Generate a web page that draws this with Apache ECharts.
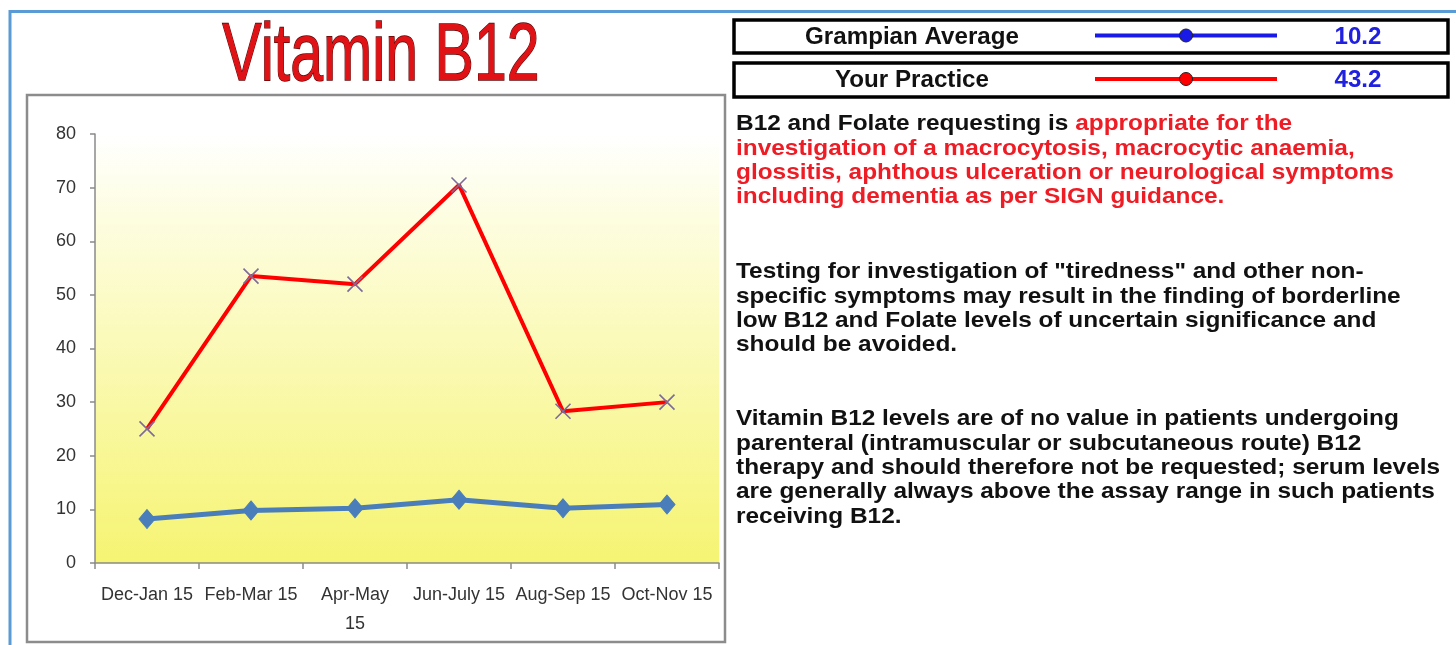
<!DOCTYPE html>
<html><head><meta charset="utf-8">
<script src="https://cdn.jsdelivr.net/npm/echarts@6/dist/echarts.min.js"></script>
<style>html,body{margin:0;padding:0;background:#fff}#c{width:1456px;height:645px}</style>
</head><body><div id="c"></div>
<script>
// ---- data ----
const titleText = 'Vitamin B12';
const categories = ['Dec-Jan 15', 'Feb-Mar 15', 'Apr-May\n15', 'Jun-July 15', 'Aug-Sep 15', 'Oct-Nov 15'];
const practiceValues = [25, 53.5, 52, 70.5, 28.3, 30];
const grampianValues = [8.2, 9.8, 10.2, 11.8, 10.2, 10.9];
const yMin = 0, yMax = 80, yStep = 10;
const legendNames = ['Grampian Average', 'Your Practice'];
const legendValues = ['10.2', '43.2'];
const noteParagraphs = [
  ['{k|B12 and Folate requesting is }{r|appropriate for the}',
   '{r|investigation of a macrocytosis, macrocytic anaemia,}',
   '{r|glossitis, aphthous ulceration or neurological symptoms}',
   '{r|including dementia as per SIGN guidance.}'],
  ['{k|Testing for investigation of "tiredness" and other non-}',
   '{k|specific symptoms may result in the finding of borderline}',
   '{k|low B12 and Folate levels of uncertain significance and}',
   '{k|should be avoided.}'],
  ['{k|Vitamin B12 levels are of no value in patients undergoing}',
   '{k|parenteral (intramuscular or subcutaneous route) B12}',
   '{k|therapy and should therefore not be requested; serum levels}',
   '{k|are generally always above the assay range in such patients}',
   '{k|receiving B12.}']
];

// ---- style ----
const axisFont = '"Liberation Sans Narrow","Liberation Sans",Arial,sans-serif';
const boldFont = '"Liberation Sans",Arial,sans-serif';
const practiceColor = '#ff0000';
const grampianColor = '#4a7ebb';
const legendLineColors = ['#1a1ae6', '#ff0000'];
const valueColor = '#2020e0';

const chart = echarts.init(document.getElementById('c'), null, {renderer: 'canvas'});

const graphics = [];
// outer blue frame
graphics.push({type: 'polyline', z: -20, silent: true,
  shape: {points: [[10, 645], [10, 11.5], [1456, 11.5]]},
  style: {stroke: '#5b9bd5', lineWidth: 3, fill: null}});
// chart box
graphics.push({type: 'rect', z: -10, silent: true,
  shape: {x: 27, y: 95, width: 698, height: 547},
  style: {fill: '#ffffff', stroke: '#8c8c8c', lineWidth: 2.5}});
// title
graphics.push({type: 'text', x: 381, y: 57, scaleX: 0.72, silent: true,
  style: {text: titleText, x: 0, y: 0, align: 'center', verticalAlign: 'middle',
    font: '82px ' + boldFont, fill: '#e01216', stroke: '#5a0606', lineWidth: 1.4}});
// legend boxes
const boxTops = [20, 63], boxH = [33, 34];
legendNames.forEach((name, i) => {
  const cy = boxTops[i] + boxH[i] / 2;
  graphics.push({type: 'rect', silent: true,
    shape: {x: 734, y: boxTops[i], width: 714, height: boxH[i]},
    style: {fill: '#fff', stroke: '#000', lineWidth: 3.5}});
  graphics.push({type: 'text', x: 912, y: cy + 1, scaleX: 1.05, silent: true,
    style: {text: name, x: 0, y: 0, align: 'center', verticalAlign: 'middle',
      font: 'bold 23px ' + boldFont, fill: '#111'}});
  graphics.push({type: 'line', silent: true,
    shape: {x1: 1095, y1: cy - 1, x2: 1277, y2: cy - 1},
    style: {stroke: legendLineColors[i], lineWidth: 4}});
  graphics.push({type: 'circle', silent: true,
    shape: {cx: 1186, cy: cy - 1, r: 6.5},
    style: {fill: legendLineColors[i], stroke: '#222', lineWidth: 1}});
  graphics.push({type: 'text', x: 1358, y: cy + 1, scaleX: 1.05, silent: true,
    style: {text: legendValues[i], x: 0, y: 0, align: 'center', verticalAlign: 'middle',
      font: 'bold 23px ' + boldFont, fill: valueColor}});
});
// notes
const paraTops = [124, 272, 419];
const lineStep = 24.4;
noteParagraphs.forEach((lines, p) => {
  lines.forEach((ln, i) => {
    graphics.push({type: 'text', x: 736, y: paraTops[p] + i * lineStep, scaleX: 1.085, silent: true,
      style: {text: ln, x: 0, y: 0, align: 'left', verticalAlign: 'middle',
        rich: {
          k: {font: 'bold 22.5px ' + boldFont, fill: '#111111'},
          r: {font: 'bold 22.5px ' + boldFont, fill: '#ee1c24'}
        }}});
  });
});

const option = {
  animation: false,
  backgroundColor: 'transparent',
  grid: {left: 95, right: 737, top: 134, bottom: 82, show: true, borderWidth: 0,
    backgroundColor: new echarts.graphic.LinearGradient(0, 0, 0, 1, [
      {offset: 0, color: '#ffffff'},
      {offset: 0.2, color: '#fdfde0'},
      {offset: 1, color: '#f6f472'}
    ])},
  xAxis: {
    type: 'category', data: categories, boundaryGap: true,
    axisLine: {lineStyle: {color: '#8a8a8a', width: 1.5}},
    axisTick: {show: true, length: 6, lineStyle: {color: '#8a8a8a', width: 1.5}},
    axisLabel: {interval: 0, color: '#333333', fontSize: 18, fontFamily: axisFont, lineHeight: 29, margin: 18}
  },
  yAxis: {
    type: 'value', min: yMin, max: yMax, interval: yStep,
    axisLine: {show: true, lineStyle: {color: '#8a8a8a', width: 1.5}},
    axisTick: {show: true, length: 5, lineStyle: {color: '#8a8a8a', width: 1.5}},
    splitLine: {show: false},
    axisLabel: {color: '#333333', fontSize: 18, fontFamily: axisFont, margin: 19}
  },
  series: [
    {name: legendNames[1], type: 'line', data: practiceValues, z: 3,
      lineStyle: {color: practiceColor, width: 4},
      symbol: 'path://M0,0L10,10M10,0L0,10', symbolSize: 15, showAllSymbol: true,
      itemStyle: {color: 'rgba(0,0,0,0)', borderColor: '#7c6c9c', borderWidth: 1.6}},
    {name: legendNames[0], type: 'line', data: grampianValues, z: 4,
      lineStyle: {color: grampianColor, width: 5},
      symbol: 'diamond', symbolSize: [16, 19], showAllSymbol: true,
      itemStyle: {color: grampianColor, borderColor: grampianColor, borderWidth: 1}}
  ],
  graphic: {elements: graphics}
};
chart.setOption(option);
</script>
</body></html>
